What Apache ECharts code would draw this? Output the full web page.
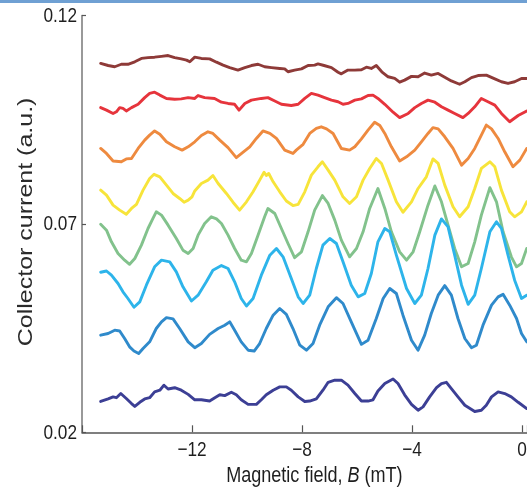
<!DOCTYPE html>
<html>
<head>
<meta charset="utf-8">
<script src="https://cdn.jsdelivr.net/npm/echarts@6/dist/echarts.min.js"></script>
<style>
html,body{margin:0;padding:0;background:#fff;overflow:hidden;}
#chart{width:527px;height:491px;}
</style>
</head>
<body>
<div id="chart"></div>
<script>
// Magnetic field B (mT) and collector current (a.u.) for each trace
const brownB = [-15.32,-15.05,-14.81,-14.57,-14.33,-14.08,-13.84,-13.6,-13.36,-13.11,-12.87,-12.63,-12.39,-12.2,-12.08,-11.9,-11.66,-11.36,-11.11,-10.87,-10.63,-10.33,-10.08,-9.84,-9.6,-9.36,-9.11,-8.81,-8.63,-8.51,-8.27,-8.02,-7.78,-7.54,-7.42,-7.2,-6.93,-6.69,-6.57,-6.33,-6.08,-5.84,-5.66,-5.48,-5.3,-5.1,-4.87,-4.63,-4.45,-4.27,-4.02,-3.78,-3.54,-3.3,-3.05,-2.81,-2.57,-2.27,-2.08,-1.84,-1.6,-1.3,-0.99,-0.75,-0.51,-0.27,-0.02,0.17];
const brownI = [0.1085,0.1080,0.1077,0.1083,0.1083,0.1089,0.1097,0.1099,0.1100,0.1102,0.1104,0.1099,0.1096,0.1093,0.1089,0.1100,0.1097,0.1096,0.1088,0.1081,0.1075,0.1069,0.1075,0.1080,0.1083,0.1077,0.1075,0.1073,0.1072,0.1065,0.1069,0.1072,0.1080,0.1081,0.1084,0.1080,0.1075,0.1064,0.1060,0.1069,0.1069,0.1070,0.1076,0.1073,0.1080,0.1065,0.1053,0.1049,0.1040,0.1045,0.1054,0.1053,0.1062,0.1057,0.1061,0.1052,0.1043,0.1035,0.1041,0.1051,0.1056,0.1057,0.1048,0.1041,0.1037,0.1041,0.1049,0.1049];

const redB = [-15.32,-15.11,-14.87,-14.75,-14.63,-14.51,-14.39,-14.2,-13.96,-13.72,-13.54,-13.36,-13.17,-12.93,-12.63,-12.39,-12.14,-11.9,-11.78,-11.54,-11.18,-10.93,-10.69,-10.45,-10.29,-10.08,-9.84,-9.48,-9.24,-8.99,-8.75,-8.39,-8.14,-7.9,-7.66,-7.42,-7.18,-6.93,-6.69,-6.51,-6.33,-6.08,-5.84,-5.6,-5.42,-5.24,-4.99,-4.69,-4.45,-4.14,-3.9,-3.66,-3.42,-3.17,-2.93,-2.69,-2.45,-2.15,-1.96,-1.72,-1.48,-1.24,-0.99,-0.75,-0.45,-0.14,0.17];
const redI = [0.0979,0.0973,0.0965,0.0969,0.0979,0.0977,0.0971,0.0979,0.0987,0.1003,0.1013,0.1016,0.1009,0.1001,0.0999,0.1000,0.1003,0.1001,0.1008,0.1003,0.1001,0.0992,0.0989,0.0987,0.0973,0.0989,0.0997,0.1001,0.1003,0.0995,0.0987,0.0984,0.0987,0.1001,0.1013,0.1009,0.1003,0.0997,0.0993,0.0987,0.0989,0.0997,0.1000,0.1008,0.1009,0.1001,0.0987,0.0968,0.0955,0.0965,0.0979,0.0989,0.0997,0.0992,0.0981,0.0973,0.0965,0.0955,0.0965,0.0981,0.1001,0.0993,0.0985,0.0965,0.0945,0.0960,0.0971];

const orangeB = [-15.32,-15.11,-14.87,-14.57,-14.39,-14.2,-13.96,-13.72,-13.54,-13.36,-13.17,-12.93,-12.63,-12.36,-12.14,-11.9,-11.66,-11.42,-11.24,-10.99,-10.69,-10.39,-10.14,-9.9,-9.66,-9.42,-9.17,-8.93,-8.63,-8.33,-8.21,-7.96,-7.72,-7.48,-7.3,-7.11,-6.87,-6.57,-6.27,-6.08,-5.84,-5.6,-5.36,-5.17,-4.99,-4.75,-4.45,-4.2,-3.9,-3.66,-3.42,-3.24,-3.05,-2.81,-2.51,-2.2,-1.96,-1.72,-1.48,-1.3,-1.11,-0.87,-0.63,-0.33,-0.08,0.17];
const orangeI = [0.0881,0.0869,0.0851,0.0849,0.0856,0.0857,0.0881,0.0901,0.0913,0.0923,0.0915,0.0897,0.0885,0.0877,0.0885,0.0897,0.0912,0.0921,0.0917,0.0901,0.0883,0.0859,0.0872,0.0885,0.0905,0.0923,0.0917,0.0905,0.0877,0.0869,0.0877,0.0891,0.0917,0.0929,0.0933,0.0928,0.0917,0.0881,0.0877,0.0885,0.0904,0.0925,0.0944,0.0936,0.0917,0.0885,0.0851,0.0861,0.0877,0.0897,0.0917,0.0931,0.0928,0.0909,0.0881,0.0841,0.0857,0.0881,0.0913,0.0937,0.0928,0.0905,0.0873,0.0837,0.0853,0.0881];

const yellowB = [-15.32,-15.11,-14.87,-14.63,-14.39,-14.2,-14.02,-13.78,-13.54,-13.38,-13.17,-12.93,-12.69,-12.45,-12.29,-12.14,-12.0,-11.9,-11.66,-11.42,-11.24,-11.05,-10.75,-10.51,-10.27,-10.02,-9.78,-9.54,-9.38,-9.3,-9.21,-9.05,-8.81,-8.57,-8.33,-8.14,-7.9,-7.66,-7.42,-7.26,-7.05,-6.81,-6.51,-6.27,-6.02,-5.78,-5.54,-5.3,-5.11,-4.87,-4.57,-4.33,-4.02,-3.78,-3.48,-3.24,-3.05,-2.81,-2.51,-2.27,-1.96,-1.72,-1.48,-1.17,-0.99,-0.75,-0.45,-0.27,-0.02,0.17];
const yellowI = [0.0781,0.0769,0.0745,0.0733,0.0723,0.0737,0.0747,0.0781,0.0809,0.0819,0.0813,0.0793,0.0773,0.0761,0.0752,0.0757,0.0765,0.0779,0.0797,0.0805,0.0816,0.0797,0.0773,0.0752,0.0733,0.0753,0.0777,0.0805,0.0824,0.0816,0.0821,0.0801,0.0777,0.0755,0.0744,0.0747,0.0777,0.0817,0.0837,0.0849,0.0829,0.0805,0.0765,0.0749,0.0765,0.0805,0.0833,0.0857,0.0845,0.0805,0.0753,0.0728,0.0753,0.0785,0.0813,0.0856,0.0845,0.0793,0.0741,0.0717,0.0741,0.0785,0.0833,0.0849,0.0837,0.0781,0.0729,0.0717,0.0729,0.0753];

const greenB = [-15.32,-15.11,-14.93,-14.69,-14.45,-14.27,-14.08,-13.84,-13.6,-13.42,-13.3,-13.11,-12.87,-12.57,-12.33,-12.14,-11.96,-11.78,-11.54,-11.3,-11.11,-10.93,-10.69,-10.45,-10.21,-10.02,-9.84,-9.6,-9.36,-9.24,-8.99,-8.75,-8.51,-8.27,-8.02,-7.78,-7.54,-7.26,-7.05,-6.81,-6.57,-6.27,-6.02,-5.78,-5.54,-5.24,-4.99,-4.75,-4.45,-4.2,-3.96,-3.72,-3.42,-3.17,-2.93,-2.69,-2.45,-2.2,-1.96,-1.72,-1.48,-1.17,-0.93,-0.69,-0.39,-0.2,-0.02,0.17];
const greenI = [0.0699,0.0685,0.0657,0.0629,0.0613,0.0603,0.0617,0.0649,0.0689,0.0713,0.0729,0.0721,0.0697,0.0665,0.0637,0.0629,0.0641,0.0673,0.0701,0.0717,0.0712,0.0701,0.0673,0.0641,0.0613,0.0609,0.0629,0.0673,0.0717,0.0737,0.0725,0.0689,0.0653,0.0619,0.0633,0.0681,0.0733,0.0768,0.0749,0.0709,0.0661,0.0621,0.0641,0.0681,0.0737,0.0785,0.0737,0.0681,0.0633,0.0613,0.0633,0.0681,0.0745,0.0791,0.0753,0.0697,0.0641,0.0597,0.0605,0.0657,0.0721,0.0787,0.0753,0.0681,0.0621,0.0597,0.0605,0.0641];

const skyB = [-15.32,-15.11,-14.93,-14.69,-14.51,-14.33,-14.11,-13.9,-13.66,-13.36,-13.11,-12.81,-12.57,-12.33,-12.02,-11.78,-11.48,-11.24,-10.93,-10.69,-10.45,-10.21,-10.02,-9.78,-9.48,-9.17,-8.93,-8.69,-8.39,-8.14,-7.96,-7.72,-7.48,-7.24,-6.99,-6.75,-6.51,-6.21,-5.96,-5.72,-5.48,-5.24,-4.99,-4.81,-4.57,-4.2,-3.9,-3.66,-3.42,-3.17,-2.93,-2.69,-2.45,-2.2,-1.96,-1.72,-1.48,-1.17,-0.93,-0.75,-0.51,-0.27,-0.02,0.17];
const skyI = [0.0584,0.0587,0.0577,0.0557,0.0537,0.0521,0.0500,0.0513,0.0553,0.0597,0.0613,0.0609,0.0585,0.0549,0.0515,0.0529,0.0561,0.0589,0.0600,0.0593,0.0561,0.0521,0.0503,0.0521,0.0577,0.0625,0.0641,0.0621,0.0569,0.0525,0.0509,0.0529,0.0593,0.0649,0.0665,0.0653,0.0609,0.0553,0.0525,0.0533,0.0581,0.0657,0.0689,0.0681,0.0625,0.0545,0.0509,0.0529,0.0593,0.0673,0.0712,0.0693,0.0625,0.0553,0.0507,0.0529,0.0593,0.0681,0.0705,0.0689,0.0625,0.0565,0.0521,0.0529];

const blueB = [-15.32,-15.05,-14.81,-14.63,-14.45,-14.27,-14.11,-13.94,-13.78,-13.54,-13.3,-13.11,-12.93,-12.69,-12.45,-12.14,-11.9,-11.66,-11.36,-11.05,-10.81,-10.63,-10.45,-10.21,-9.96,-9.74,-9.54,-9.3,-9.05,-8.81,-8.57,-8.33,-8.08,-7.84,-7.6,-7.36,-7.05,-6.75,-6.51,-6.21,-5.84,-5.6,-5.3,-5.05,-4.81,-4.57,-4.33,-4.02,-3.78,-3.54,-3.3,-3.05,-2.81,-2.57,-2.33,-2.08,-1.84,-1.66,-1.42,-1.11,-0.87,-0.69,-0.45,-0.2,-0.02,0.17];
const blueI = [0.0433,0.0437,0.0445,0.0443,0.0425,0.0405,0.0395,0.0389,0.0401,0.0417,0.0449,0.0465,0.0475,0.0472,0.0449,0.0417,0.0403,0.0413,0.0435,0.0449,0.0457,0.0465,0.0445,0.0417,0.0397,0.0395,0.0413,0.0449,0.0481,0.0497,0.0483,0.0449,0.0409,0.0397,0.0413,0.0457,0.0501,0.0523,0.0509,0.0465,0.0411,0.0421,0.0473,0.0521,0.0545,0.0533,0.0481,0.0421,0.0397,0.0433,0.0485,0.0529,0.0552,0.0529,0.0473,0.0425,0.0403,0.0409,0.0457,0.0505,0.0525,0.0531,0.0505,0.0473,0.0437,0.0417];

const navyB = [-15.32,-15.05,-14.87,-14.75,-14.59,-14.39,-14.2,-14.08,-13.9,-13.72,-13.54,-13.36,-13.17,-13.02,-12.87,-12.63,-12.39,-12.14,-11.9,-11.66,-11.36,-11.17,-10.99,-10.81,-10.57,-10.39,-10.21,-9.96,-9.66,-9.48,-9.3,-9.05,-8.81,-8.57,-8.39,-8.14,-7.9,-7.72,-7.48,-7.24,-7.05,-6.81,-6.57,-6.33,-6.08,-5.84,-5.6,-5.42,-5.24,-4.99,-4.69,-4.51,-4.27,-4.02,-3.78,-3.6,-3.36,-3.11,-2.93,-2.75,-2.57,-2.33,-2.08,-1.72,-1.48,-1.3,-1.11,-0.87,-0.63,-0.39,-0.14,0.17];
const navyI = [0.0274,0.0280,0.0285,0.0283,0.0293,0.0281,0.0269,0.0262,0.0272,0.0280,0.0283,0.0297,0.0301,0.0313,0.0304,0.0307,0.0301,0.0291,0.0278,0.0278,0.0275,0.0283,0.0290,0.0288,0.0296,0.0290,0.0278,0.0267,0.0267,0.0278,0.0290,0.0301,0.0309,0.0309,0.0301,0.0285,0.0274,0.0275,0.0280,0.0301,0.0320,0.0325,0.0325,0.0313,0.0293,0.0275,0.0275,0.0278,0.0299,0.0317,0.0328,0.0317,0.0290,0.0267,0.0253,0.0261,0.0285,0.0307,0.0317,0.0320,0.0305,0.0285,0.0265,0.0250,0.0253,0.0265,0.0285,0.0297,0.0293,0.0285,0.0272,0.0257];

const xTicks = [-12, -8, -4, 0];
const yTicks = [0.02, 0.07, 0.12];
const xTitle = 'Magnetic field, {i|B} (mT)';
const yTitle = 'Collector current (a.u.)';

const traces = [
  {name: 'trace1', x: brownB, y: brownI, color: '#8e3a38'},
  {name: 'trace2', x: redB, y: redI, color: '#e6343c'},
  {name: 'trace3', x: orangeB, y: orangeI, color: '#ee8a3f'},
  {name: 'trace4', x: yellowB, y: yellowI, color: '#f7e43a'},
  {name: 'trace5', x: greenB, y: greenI, color: '#82c28c'},
  {name: 'trace6', x: skyB, y: skyI, color: '#2db4ea'},
  {name: 'trace7', x: blueB, y: blueI, color: '#2f8acb'},
  {name: 'trace8', x: navyB, y: navyI, color: '#3c3f95'}
];

const chart = echarts.init(document.getElementById('chart'), null, {renderer: 'canvas'});
const FONT = '"Liberation Sans", Arial, Helvetica, sans-serif';
const SQ = 0.82; // horizontal squeeze seen in the reference lettering

chart.setOption({
  animation: false,
  backgroundColor: '#ffffff',
  grid: {left: 82, right: 0, top: 15.5, bottom: 58.7, containLabel: false},
  xAxis: {
    type: 'value', min: -16, max: 0.18, interval: 4,
    axisLine: {show: true, onZero: false, lineStyle: {color: '#555', width: 1.5}},
    axisTick: {show: true, inside: true, length: 7, lineStyle: {color: '#555', width: 1.2}},
    axisLabel: {show: false},
    splitLine: {show: false}
  },
  yAxis: {
    type: 'value', min: 0.02, max: 0.12, interval: 0.05,
    axisLine: {show: true, onZero: false, lineStyle: {color: '#777', width: 1.5}},
    axisTick: {show: true, inside: true, length: 4, lineStyle: {color: '#555', width: 1.2}},
    axisLabel: {show: false},
    splitLine: {show: false}
  },
  series: traces.map(t => ({
    name: t.name, type: 'line', showSymbol: false, symbol: 'none',
    data: t.x.map((b, i) => [b, t.y[i]]),
    lineStyle: {color: t.color, width: 2.9, cap: 'round', join: 'round'},
    clip: true
  }))
});

// Tick labels and titles placed through the axes' own scales
const g = [
  {type: 'rect', left: 0, top: 0, shape: {width: 527, height: 3}, style: {fill: '#6fa0d3'}, silent: true}
];
const x0 = chart.convertToPixel({gridIndex: 0}, [-16, 0.02]);
yTicks.forEach(v => {
  const p = chart.convertToPixel({gridIndex: 0}, [-16, v]);
  g.push({type: 'text', x: x0[0] - 5, y: p[1] + 0.5, scaleX: SQ,
    style: {text: v.toFixed(2), fontFamily: FONT, fontSize: 21, fill: '#1e1e1e', align: 'right', verticalAlign: 'middle'}});
});
xTicks.forEach(v => {
  const p = chart.convertToPixel({gridIndex: 0}, [v, 0.02]);
  g.push({type: 'text', x: p[0], y: p[1] + 18, scaleX: SQ,
    style: {text: v < 0 ? '\u2212' + Math.abs(v) : String(v), fontFamily: FONT, fontSize: 21, fill: '#1e1e1e', align: 'center', verticalAlign: 'middle'}});
});
const mid = chart.convertToPixel({gridIndex: 0}, [-7.55, 0.07]);
g.push({type: 'text', x: mid[0], y: x0[1] + 44, scaleX: SQ,
  style: {text: xTitle, fontFamily: FONT, fontSize: 22, fill: '#1e1e1e', align: 'center', verticalAlign: 'middle',
    rich: {i: {fontFamily: FONT, fontSize: 22, fontStyle: 'italic', fill: '#1e1e1e'}}}});
g.push({type: 'text', x: 26, y: mid[1] - 2, rotation: Math.PI / 2, scaleY: SQ,
  style: {text: yTitle, fontFamily: FONT, fontSize: 25, fill: '#2a2a2a', align: 'center', verticalAlign: 'middle'}});
chart.setOption({graphic: g});
</script>
</body>
</html>
